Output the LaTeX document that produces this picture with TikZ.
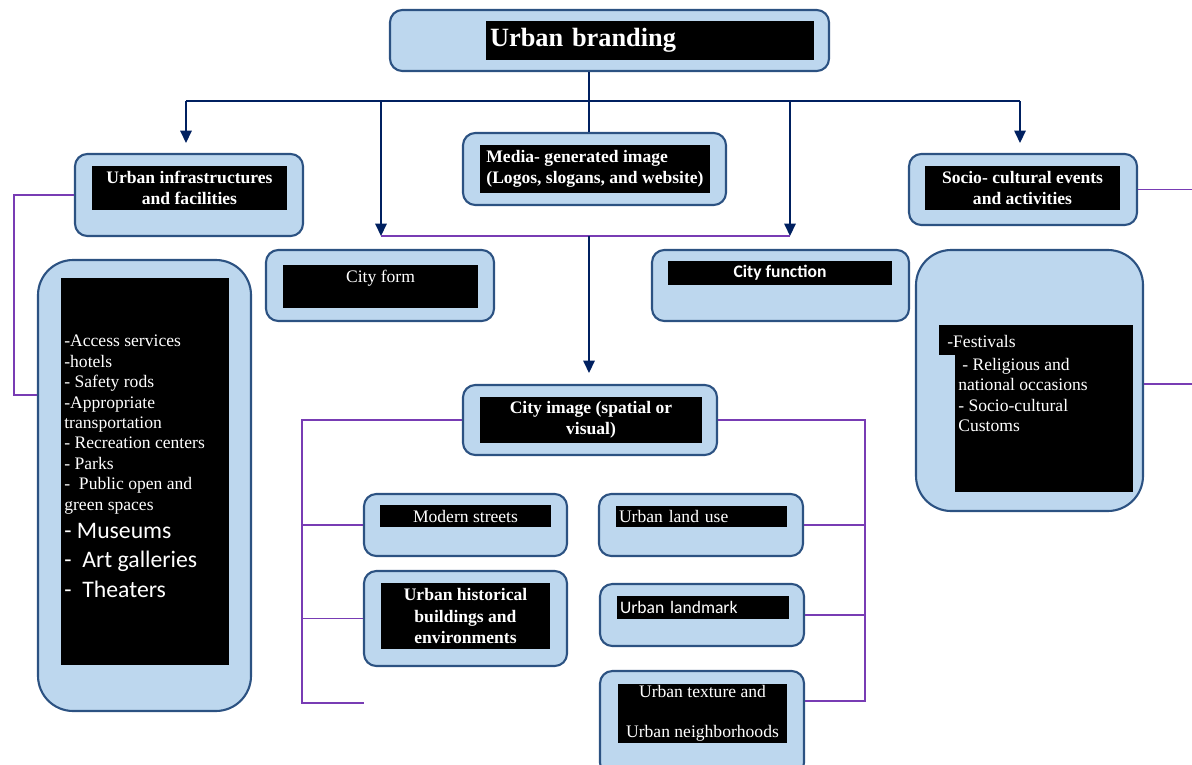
\documentclass[tikz,border=0pt]{standalone}
\usepackage{fontspec}
\setmainfont{Liberation Serif}
\newfontfamily\calibri{Carlito}
\usepackage{xcolor}
\usepackage{tikz}
\usetikzlibrary{arrows.meta,positioning}

\definecolor{cardfill}{RGB}{189,215,238}
\definecolor{cardline}{RGB}{44,82,130}
\definecolor{arrowblue}{RGB}{0,32,96}
\definecolor{linkpurple}{RGB}{120,60,180}

\tikzset{
  card/.style={draw=cardline, fill=cardfill, line width=1.2pt, rounded corners=7pt, inner sep=0pt},
  bigcard/.style={card, rounded corners=20pt},
  boxsize/.style 2 args={minimum width=#1*0.02cm, minimum height=#2*0.02cm},
  panel/.style={fill=black, text=white, inner sep=0pt, align=center, font=\fontsize{10}{12}\selectfont},
  headpanel/.style={panel, font=\bfseries\fontsize{10}{12}\selectfont},
  arr/.style={draw=arrowblue, line width=0.8pt, -{Triangle[length=7pt,width=6.5pt]}},
  trunk/.style={draw=arrowblue, line width=0.8pt},
  link/.style={draw=linkpurple, line width=0.7pt}
}

\begin{document}
\begin{tikzpicture}[x=0.02cm,y=-0.02cm]
    \useasboundingbox (0,0) rectangle (1192,764);

    \node[card, boxsize={439}{61}] (brand) at (609.5,40.5) {};
    \node[panel, boxsize={328}{39}, align=left, text width=6.4cm, inner xsep=0.08cm,
          font=\bfseries\fontsize{15}{18}\selectfont] (brandbg) at (650,40.5) {Urban branding};

    \node[card, boxsize={263}{72}] (media) at (594.5,169) {};
    \node[headpanel, boxsize={230}{48}, align=left] (mediabg) at (595,169)
         {Media- generated image\\(Logos, slogans, and website)};

    \node[card, boxsize={228}{82}] (infra) at (189,195) {};
    \node[headpanel, boxsize={195}{44}] (infrabg) at (189.5,188) {Urban infrastructures\\and facilities};

    \node[card, boxsize={228}{71}] (socio) at (1023,189.5) {};
    \node[headpanel, boxsize={195}{44}] (sociobg) at (1022.5,188) {Socio- cultural events\\and activities};

    \node[card, boxsize={228}{71}] (form) at (380,285.5) {};
    \node[panel, boxsize={195}{43}] (formbg) at (380.5,286.5) {};
    \node[text=white, inner sep=0pt, font=\fontsize{10}{12}\selectfont, anchor=north]
         (formtxt) at ([yshift=-0.1cm]formbg.north) {City form};

    \node[card, boxsize={257}{71}] (function) at (780.5,285.5) {};
    \node[panel, boxsize={224}{24}, font=\calibri\bfseries\fontsize{10}{12}\selectfont]
         (functionbg) at (780,273) {City function};

    \node[bigcard, boxsize={213}{451}] (infralist) at (144.5,485.5) {};
    \node[panel, boxsize={168}{387}] (infralistbg) at (145,471.5) {};
    \node[text=white, align=left, anchor=north west, inner sep=0pt,
          font=\fontsize{10}{11.6}\selectfont] (infralisttxt) at (64,335)
         {-Access services\\
          -hotels\\
          - Safety rods\\
          -Appropriate\\
          transportation\\
          - Recreation centers\\
          - Parks\\
          -\ \ Public open and\\
          green spaces\\[4.4pt]
          {\calibri\fontsize{13.5}{16}\selectfont - Museums}\\[5pt]
          {\calibri\fontsize{13.5}{16}\selectfont -\ \ Art galleries}\\[4.5pt]
          {\calibri\fontsize{13.5}{16}\selectfont -\ \ Theaters}};

    \node[bigcard, boxsize={227}{261}] (sociolist) at (1029.5,380.5) {};
    \node[panel, boxsize={178}{167}] (sociolistbg) at (1044,408.5) {};
    \node[panel, boxsize={16}{30}] (sociotab) at (947,340) {};
    \node[text=white, align=left, anchor=north west, inner sep=0pt,
          font=\fontsize{10}{11.6}\selectfont] (sociolisttxt) at (958,335)
         {\hspace*{-0.22cm}-Festivals\\[1.5pt]
          \hspace*{0.08cm}- Religious and\\
          national occasions\\
          - Socio-cultural\\
          Customs};

    \node[card, boxsize={254}{70}] (image) at (590,420) {};
    \node[headpanel, boxsize={222}{46}] (imagebg) at (591,420) {City image (spatial or\\visual)};

    \node[card, boxsize={203}{62}] (streets) at (465.5,525) {};
    \node[panel, boxsize={171}{22}] (streetsbg) at (465.5,516) {Modern streets};

    \node[card, boxsize={203}{95}] (hist) at (465.5,618.5) {};
    \node[headpanel, boxsize={169}{66}, font=\bfseries\fontsize{10}{12.5}\selectfont]
         (histbg) at (465.5,616) {Urban historical\\buildings and\\environments};

    \node[card, boxsize={204}{62}] (landuse) at (701,525) {};
    \node[panel, boxsize={171}{21}, align=left, text width=3.3cm, inner xsep=0.06cm]
         (landusebg) at (701.5,516.5) {Urban land use};

    \node[card, boxsize={204}{62}] (landmark) at (702,615) {};
    \node[panel, boxsize={172}{23}, align=left, text width=3.32cm, inner xsep=0.06cm,
          font=\calibri\fontsize{10}{12}\selectfont] (landmarkbg) at (703,607.5) {Urban landmark};

    \node[card, boxsize={204}{104}] (texture) at (702,723) {};
    \node[panel, boxsize={169}{59}] (texturebg) at (702.5,713.5) {Urban texture and\\[11pt]Urban neighborhoods};

    \coordinate (hub) at (589,101);
    \coordinate (hubL) at (186,101);
    \coordinate (hubR) at (1020,101);
    \coordinate (infratip) at (186,143);
    \coordinate (sociotip) at (1020,143);
    \coordinate (formdrop) at (381,101);
    \coordinate (functiondrop) at (790,101);
    \coordinate (formjoin) at (381,236);
    \coordinate (functionjoin) at (790,236);
    \coordinate (imagejoin) at (589,236);
    \coordinate (imagetip) at (589,373);

    \draw[trunk] (brand.south -| hub) -- (hub);
    \draw[trunk] (hubL) -- (hubR);
    \draw[arr] (hubL) -- (infratip);
    \draw[arr] (hubR) -- (sociotip);
    \draw[arr] (formdrop) -- (formjoin);
    \draw[arr] (functiondrop) -- (functionjoin);
    \draw[trunk] (hub) -- (hub |- media.north);
    \draw[link] (formjoin) -- (functionjoin);
    \draw[arr] (imagejoin) -- (imagetip);

    \coordinate (brkL) at (302,703);
    \coordinate (brkLend) at (364,703);
    \coordinate (brkR) at (865,701);
    \draw[link] (image.west) -| (brkL) -- (brkLend);
    \draw[link] (streets.west) -- (streets.west -| brkL);
    \draw[link] (hist.west) -- (hist.west -| brkL);
    \draw[link] (image.east) -| (brkR) -- (brkR -| texture.east);
    \draw[link] (landuse.east) -- (landuse.east -| brkR);
    \draw[link] (landmark.east) -- (landmark.east -| brkR);

    \coordinate (sideL) at (14,395);
    \coordinate (sideR) at (1192,384);
    \draw[link] (infra.west) -| (sideL) -- (sideL -| infralist.west);
    \draw[link] (socio.east) -- (socio.east -| sideR);
    \draw[link] (sideR -| sociolist.east) -- (sideR);
\end{tikzpicture}
\end{document}
